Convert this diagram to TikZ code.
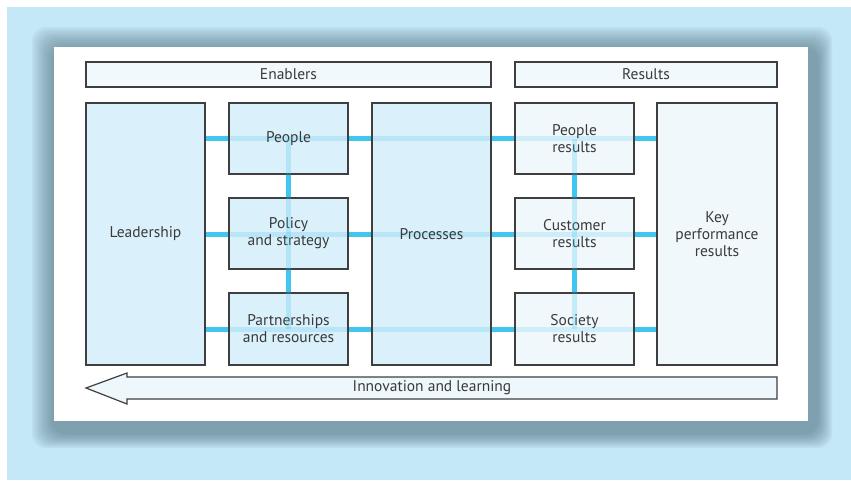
\documentclass[tikz,border=0pt]{standalone}
\usepackage{fontspec}
\setmainfont{PT Sans}
\usepackage{xcolor}
\usepackage{tikz}
\usetikzlibrary{calc, positioning}

\definecolor{bgblue}{HTML}{C5E8F7}
\definecolor{shadowc}{HTML}{4F6C7C}
\definecolor{linkc}{HTML}{40C6F0}
\definecolor{boxdark}{HTML}{D3EDF9}
\definecolor{boxlight}{HTML}{EDF7FC}
\definecolor{barc}{HTML}{F2F9FD}
\definecolor{edgec}{HTML}{3F3F3F}
\definecolor{textc}{HTML}{3A3A3A}

\tikzset{
    enabler/.style={draw=edgec, line width=1.2pt, fill=boxdark, fill opacity=0.82, text opacity=1,
        text=textc, align=center, inner sep=0pt},
    result/.style={enabler, fill=boxlight},
    headbar/.style={draw=edgec, line width=1.2pt, fill=barc, text=textc, inner sep=0pt,
        minimum height=25pt},
    link/.style={linkc, line width=5pt}
}

\begin{document}
\begin{tikzpicture}[x=1pt, y=-1pt, >=stealth, font=\fontsize{15.5}{17}\selectfont]
            \useasboundingbox (0,0) rectangle (851,480);
            \fill[bgblue] (7,7) rectangle (851,480);
            
            % soft shadow of the panel, heavier to the lower right
            \foreach \i in {0,...,9}
                \fill[shadowc, opacity=0.08, rounded corners=14pt]
                    (32+2.2*\i,27+2.2*\i) rectangle (832-1.5*\i,448-1.5*\i);
            \fill[white] (54,47) rectangle (808,421);
            
            % links (drawn first, the boxes lie over them)
            \coordinate (r1) at (0,138);
            \coordinate (r2) at (0,234);
            \coordinate (r3) at (0,329);
            \coordinate (lx) at (205,0);
            \coordinate (kx) at (657,0);
            \draw[link] (lx |- r1) -- (kx |- r1);
            \draw[link] (lx |- r2) -- (kx |- r2);
            \draw[link] (lx |- r3) -- (kx |- r3);
            
            \node[headbar, minimum width=405pt] (enab) at (288.5,74.5) {Enablers};
            \node[headbar, minimum width=262pt] (res) at (646,74.5) {Results};
            
            \node[enabler, minimum width=119pt, minimum height=262pt] (lead) at (145.5,234) {Leadership};
            \node[enabler, minimum width=119pt, minimum height=71pt] (peop) at (288.5,138.5) {People};
            \node[enabler, minimum width=119pt, minimum height=71pt] (pol) at (288.5,233.5) {Policy\\and strategy};
            \node[enabler, minimum width=119pt, minimum height=72pt] (part) at (288.5,329) {Partnerships\\and resources};
            \node[enabler, minimum width=119pt, minimum height=262pt] (proc) at (431.5,234) {Processes};
            
            \node[result, minimum width=119pt, minimum height=71pt] (pres) at (574.5,138.5) {People\\results};
            \node[result, minimum width=119pt, minimum height=71pt] (cres) at (574.5,233.5) {Customer\\results};
            \node[result, minimum width=119pt, minimum height=72pt] (sres) at (574.5,329) {Society\\results};
            \node[result, minimum width=120pt, minimum height=262pt] (kpr) at (717,234) {Key\\performance\\results};
            
            % vertical links, faint where they cross a box
            \draw[link, opacity=0.25] (peop.center) -- (part.center);
            \draw[link, opacity=0.25] (pres.center) -- (sres.center);
            \draw[link] (peop.south) -- (pol.north);
            \draw[link] (pol.south) -- (part.north);
            \draw[link] (pres.south) -- (cres.north);
            \draw[link] (cres.south) -- (sres.north);
            
            % innovation and learning arrow
            \draw[edgec, line width=1.2pt, fill=boxlight] (86,388) -- (127,373) -- (127,377) -- (777,377)
                -- (777,399) -- (127,399) -- (127,404) -- cycle;
            \node[text=textc] (innov) at (432,388) {Innovation and learning};
        \end{tikzpicture}
\end{document}
